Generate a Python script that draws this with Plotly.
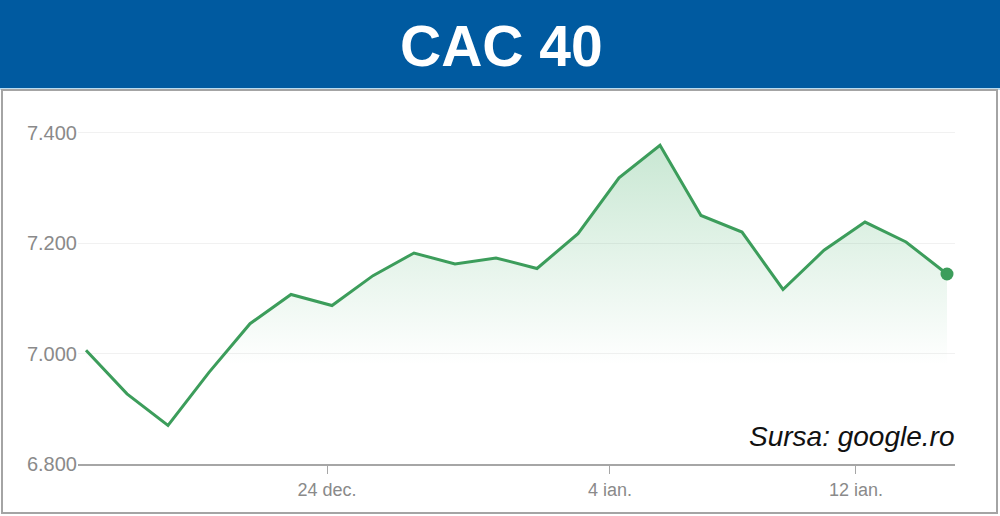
import plotly.graph_objects as go

# ---- data ----
dates = ["16 dec.", "17 dec.", "20 dec.", "21 dec.", "22 dec.", "23 dec.", "24 dec.",
         "27 dec.", "28 dec.", "29 dec.", "30 dec.", "31 dec.", "3 ian.", "4 ian.",
         "5 ian.", "6 ian.", "7 ian.", "10 ian.", "11 ian.", "12 ian.", "13 ian.", "14 ian."]
values = [7006, 6927, 6870, 6966, 7054, 7107, 7087, 7141, 7182, 7162, 7173, 7154,
          7217, 7318, 7377, 7250, 7220, 7116, 7187, 7238, 7202, 7144]
tick_labels = ["24 dec.", "4 ian.", "12 ian."]
tick_pos = [5.88, 12.78, 18.78]
y_tick_vals = [6800, 7000, 7200, 7400]
y_tick_text = ["6.800", "7.000", "7.200", "7.400"]

title_text = "CAC 40"
source_text = "Sursa: google.ro"

idx = list(range(len(values)))

W, H = 1000, 516
ML, MR, MT, MB = 78, 45, 105, 52
PW, PH = W - ML - MR, H - MT - MB


def px(x):
    return (x - ML) / PW


def py(y):
    return (H - MB - y) / PH


LINE = "#3c9d5b"
FONT = "Liberation Sans, Arial, sans-serif"

fig = go.Figure()
fig.add_trace(go.Scatter(
    x=idx, y=values, mode="lines",
    line=dict(color=LINE, width=3),
    fill="tozeroy",
    fillgradient=dict(type="vertical", start=6980, stop=7385,
                      colorscale=[[0, "rgba(70,175,105,0)"], [1, "rgba(70,175,105,0.30)"]]),
    hovertext=dates, hoverinfo="text+y",
    showlegend=False,
))
fig.add_trace(go.Scatter(
    x=idx[-1:], y=values[-1:], mode="markers",
    marker=dict(color=LINE, size=13),
    showlegend=False, hoverinfo="skip",
))

shapes = [
    # header band
    dict(type="rect", xref="paper", yref="paper", x0=px(0), x1=px(W), y0=py(88), y1=py(0),
         fillcolor="#005aa0", line=dict(width=0), layer="above"),
    dict(type="line", xref="paper", yref="paper", x0=px(0), x1=px(W), y0=py(89), y1=py(89),
         line=dict(color="#b8dcf2", width=2)),
    # frame
    dict(type="rect", xref="paper", yref="paper", x0=px(2), x1=px(997), y0=py(513), y1=py(90),
         line=dict(color="#a4a4a4", width=2), fillcolor="rgba(0,0,0,0)"),
]

annotations = [
    dict(text=title_text, xref="paper", yref="paper", x=px(501), y=py(46),
         xanchor="center", yanchor="middle", showarrow=False,
         font=dict(family=FONT, size=57, color="white", weight="bold")),
    dict(text=source_text, xref="paper", yref="paper", x=px(956), y=py(436),
         xanchor="right", yanchor="middle", showarrow=False,
         font=dict(family=FONT, size=28, color="#111111", style="italic")),
]

fig.update_layout(
    width=W, height=H,
    margin=dict(l=ML, r=MR, t=MT, b=MB, pad=0),
    paper_bgcolor="white", plot_bgcolor="white",
    shapes=shapes, annotations=annotations,
    xaxis=dict(
        range=[-0.195, 21.195], tickvals=tick_pos, ticktext=tick_labels,
        showgrid=False, zeroline=False,
        showline=True, linecolor="#a6a6a6", linewidth=2,
        ticks="outside", ticklen=8, tickcolor="#a6a6a6", tickwidth=1,
        tickfont=dict(family=FONT, size=18, color="#8a8a8a"),
    ),
    yaxis=dict(
        range=[6800, 7450], tickvals=y_tick_vals, ticktext=y_tick_text,
        showgrid=True, gridcolor="#f1f1f1", gridwidth=1, zeroline=False,
        showline=False, ticks="",
        tickfont=dict(family=FONT, size=20, color="#8a8a8a"),
    ),
)

fig.write_html("out.html", config={"displayModeBar": False},
               post_script="document.body.style.margin='0px';")
